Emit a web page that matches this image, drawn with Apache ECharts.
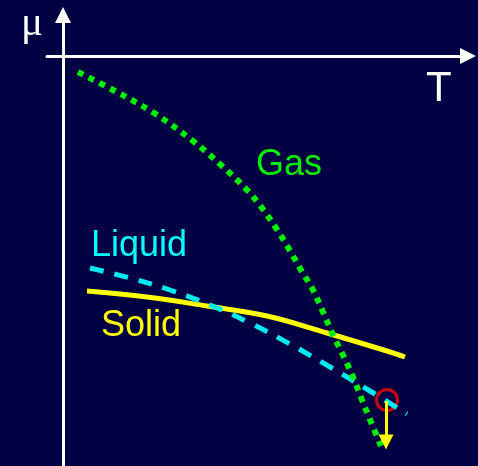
<!DOCTYPE html>
<html>
<head>
<meta charset="utf-8">
<script src="https://cdn.jsdelivr.net/npm/echarts@6/dist/echarts.min.js"></script>
<style>
  html, body { margin: 0; padding: 0; background: #000042; }
  #chart { width: 478px; height: 466px; }
</style>
</head>
<body>
<div id="chart"></div>
<script>
// points as [T, mu], T measured from the mu axis, mu measured from the T axis
const gasCurve = [
  [15, -16], [50, -34], [91, -57], [130, -85], [158, -109], [184, -134],
  [199, -152], [213, -172], [226, -193], [238, -214], [250, -234], [260, -256],
  [270, -279], [280, -299], [290, -321], [299, -344], [308, -366], [318, -390]
]
const liquidCurve = [
  [27, -212], [67, -222], [107, -234], [147, -249], [187, -267],
  [227, -288], [267, -311], [307, -335], [344, -358]
]
const solidCurve = [
  [24, -235], [84, -241], [144, -250], [204, -260], [264, -277], [324, -295], [342, -301]
]
const crossing = [324, -344]
const dropFrom = [323, -345]
const dropTo = [323, -386]

const chart = echarts.init(document.getElementById('chart'))

const label = (text, x, y, color, size, family) => ({
  type: 'text',
  left: x,
  top: y,
  style: {
    text: text,
    fill: color,
    font: size + 'px ' + (family || '"Liberation Sans", Arial, sans-serif')
  }
})

chart.setOption({
  backgroundColor: '#000042',
  animation: false,
  grid: [
    { left: 63, right: 10, top: 15, bottom: 0 },
    { left: 47, right: 10, top: 0, height: 56 }
  ],
  xAxis: [
    { gridIndex: 0, type: 'value', min: 0, max: 405, show: false },
    {
      gridIndex: 1, type: 'value', min: 0, max: 1,
      axisLine: { show: true, symbol: ['none', 'triangle'], symbolSize: [16, 16], lineStyle: { color: '#fff', width: 3 } },
      axisTick: { show: false },
      axisLabel: { show: false },
      splitLine: { show: false }
    }
  ],
  yAxis: [
    {
      gridIndex: 0, type: 'value', min: -410, max: 41,
      axisLine: { show: true, symbol: ['none', 'triangle'], symbolSize: [16, 16], lineStyle: { color: '#fff', width: 3 } },
      axisTick: { show: false },
      axisLabel: { show: false },
      splitLine: { show: false }
    },
    { gridIndex: 1, type: 'value', show: false }
  ],
  graphic: [
    label('μ', 21, 4, '#fff', 41, '"Liberation Serif", "Times New Roman", serif'),
    label('T', 426, 68, '#fff', 42),
    label('Gas', 256, 147, '#00ee00', 36),
    label('Liquid', 91, 228, '#00ffff', 36),
    label('Solid', 101, 308, '#ffff00', 36)
  ],
  series: [
    {
      name: 'Solid',
      type: 'line',
      data: solidCurve,
      smooth: 0.4,
      symbol: 'none',
      lineStyle: { color: '#ffff00', width: 5 }
    },
    {
      name: 'Liquid',
      type: 'line',
      data: liquidCurve,
      smooth: 0.4,
      symbol: 'none',
      lineStyle: { color: '#00e8f0', width: 5, type: [14, 11], cap: 'butt' }
    },
    {
      name: 'Gas',
      type: 'line',
      data: gasCurve,
      smooth: 0.4,
      symbol: 'none',
      lineStyle: { color: '#00ee00', width: 6, type: [6, 6], cap: 'butt' }
    },
    {
      name: 'crossing',
      type: 'scatter',
      data: [crossing],
      symbol: 'circle',
      symbolSize: 21,
      itemStyle: { color: 'rgba(0,0,0,0)', borderColor: '#ff0000', borderWidth: 3 },
      markLine: {
        silent: true,
        symbol: ['none', 'triangle'],
        symbolSize: [15, 15],
        label: { show: false },
        lineStyle: { color: '#ffff00', width: 3, type: 'solid' },
        data: [[{ coord: dropFrom }, { coord: dropTo }]]
      }
    }
  ]
})
</script>
</body>
</html>
